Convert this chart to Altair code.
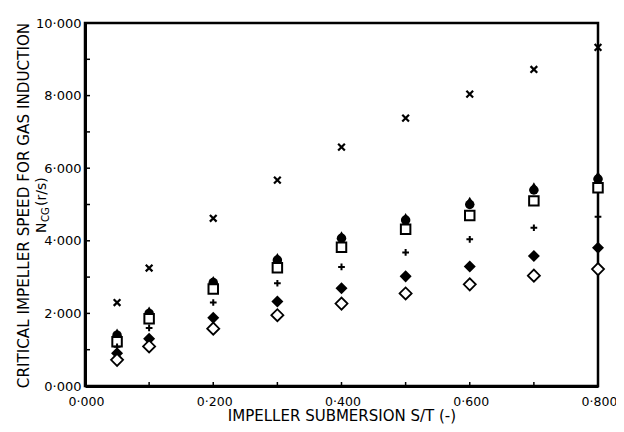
import altair as alt
import pandas as pd

# ---- data ----
s_t = [0.05, 0.10, 0.20, 0.30, 0.40, 0.50, 0.60, 0.70, 0.80]
cross_x = [2.30, 3.25, 4.62, 5.67, 6.58, 7.38, 8.04, 8.72, 9.33]
tri_filled = [1.47, 2.08, 2.92, 3.55, 4.15, 4.65, 5.10, 5.50, 5.80]
circ_filled = [1.40, 2.00, 2.85, 3.47, 4.07, 4.57, 5.00, 5.40, 5.70]
square_open = [1.22, 1.85, 2.67, 3.26, 3.82, 4.32, 4.70, 5.10, 5.46]
plus = [1.08, 1.60, 2.30, 2.83, 3.28, 3.68, 4.04, 4.36, 4.66]
diamond_filled = [0.90, 1.30, 1.88, 2.33, 2.69, 3.02, 3.29, 3.58, 3.81]
diamond_open = [0.72, 1.09, 1.58, 1.95, 2.27, 2.55, 2.80, 3.04, 3.22]

x_major = [0.0, 0.2, 0.4, 0.6, 0.8]
x_minor = [0.1, 0.3, 0.5, 0.7]
y_major = [0, 2, 4, 6, 8, 10]
y_minor = [1, 3, 5, 7, 9]

x_title = "IMPELLER SUBMERSION S/T (-)"
y_title = "CRITICAL IMPELLER SPEED FOR GAS INDUCTION"
y_sub_main = "N"
y_sub_sub = "CG"
y_sub_unit = "(r/s)"

FONT = "DejaVu Sans"
W, H = 513, 363

series = {
    "tri": tri_filled,
    "circ": circ_filled,
    "sq": square_open,
    "plus": plus,
    "fdia": diamond_filled,
    "odia": diamond_open,
    "cross": cross_x,
}
rows = []
for name, vals in series.items():
    for xv, yv in zip(s_t, vals):
        rows.append({"series": name, "s": xv, "n": yv})
df = pd.DataFrame(rows)

label_expr = "replace(format(datum.value, '.3f'), '.', '·')"

xscale = alt.Scale(domain=[0, 0.8], nice=False, zero=False)
yscale = alt.Scale(domain=[0, 10], nice=False, zero=False)

X = alt.X("s:Q", scale=xscale,
          axis=alt.Axis(values=x_major, labelExpr=label_expr, ticks=False,
                        grid=False, title=x_title, labelOffset=1,
                        labelFontSize=12.5,
                        labelFlush=False, labelPadding=9, titlePadding=1,
                        titleFontSize=15))
Y = alt.Y("n:Q", scale=yscale,
          axis=alt.Axis(values=y_major, labelExpr=label_expr, ticks=False,
                        grid=False, title=None, labelPadding=4,
                        labelFlush=False))

base = alt.Chart(df)

def pts(name, **kw):
    return base.transform_filter(alt.datum.series == name).mark_point(
        opacity=1, **kw).encode(x=X, y=Y)

layers = [
    pts("tri", shape="triangle-up", filled=True, color="black", size=90),
    pts("circ", shape="circle", filled=True, color="black", size=90),
    pts("sq", shape="square", fill="white", stroke="black", strokeWidth=2,
        fillOpacity=1, size=90),
    pts("plus", shape="M-1,0L1,0M0,-1L0,1", filled=False, color="black",
        strokeWidth=2, size=45),
    pts("fdia", shape="diamond", filled=True, color="black", size=145),
    pts("odia", shape="diamond", fill="white", stroke="black", strokeWidth=1.8,
        fillOpacity=1, size=145),
    pts("cross", shape="M-1,-1L1,1M-1,1L1,-1", filled=False, color="black",
        strokeWidth=2.2, size=45),
]

# inward ticks
ticks_y = alt.Chart(pd.DataFrame({"v": y_major + y_minor})).mark_rule(
    color="black", strokeWidth=1.5).encode(
    y=alt.Y("v:Q", scale=yscale), x=alt.value(0), x2=alt.value(5))
ticks_x = alt.Chart(pd.DataFrame({"v": x_major + x_minor})).mark_rule(
    color="black", strokeWidth=1.5).encode(
    x=alt.X("v:Q", scale=xscale), y=alt.value(H), y2=alt.value(H - 4))

# rotated y title lines
t1 = alt.Chart(pd.DataFrame({"t": [y_title]})).mark_text(
    angle=270, font=FONT, fontSize=15.2, align="center", baseline="middle",
    color="black").encode(x=alt.value(-61), y=alt.value(H / 2 + 1), text="t:N")
t2 = alt.Chart(pd.DataFrame({"t": [y_sub_main]})).mark_text(
    angle=270, font=FONT, fontSize=14, align="left", baseline="middle",
    color="black").encode(x=alt.value(-43), y=alt.value(210), text="t:N")
t3 = alt.Chart(pd.DataFrame({"t": [y_sub_sub]})).mark_text(
    angle=270, font=FONT, fontSize=10, align="left", baseline="middle",
    color="black").encode(x=alt.value(-39), y=alt.value(199), text="t:N")
t4 = alt.Chart(pd.DataFrame({"t": [y_sub_unit]})).mark_text(
    angle=270, font=FONT, fontSize=14, align="left", baseline="middle",
    color="black").encode(x=alt.value(-43), y=alt.value(183), text="t:N")

chart = alt.layer(ticks_y, ticks_x, *layers, t1, t2, t3, t4).properties(
    width=W, height=H,
    autosize=alt.AutoSizeParams(type="none"),
    padding={"left": 77, "top": 15, "right": 18, "bottom": 38},
    background="white",
).configure_view(
    stroke="black", strokeWidth=2.5
).configure_axis(
    domainColor="black", domainWidth=3,
    labelFont=FONT, labelFontSize=13, labelColor="black",
    titleFont=FONT, titleFontSize=14, titleFontWeight="normal",
    titleColor="black",
)

chart.save("out.html", embed_options={"renderer": "svg", "actions": False})
